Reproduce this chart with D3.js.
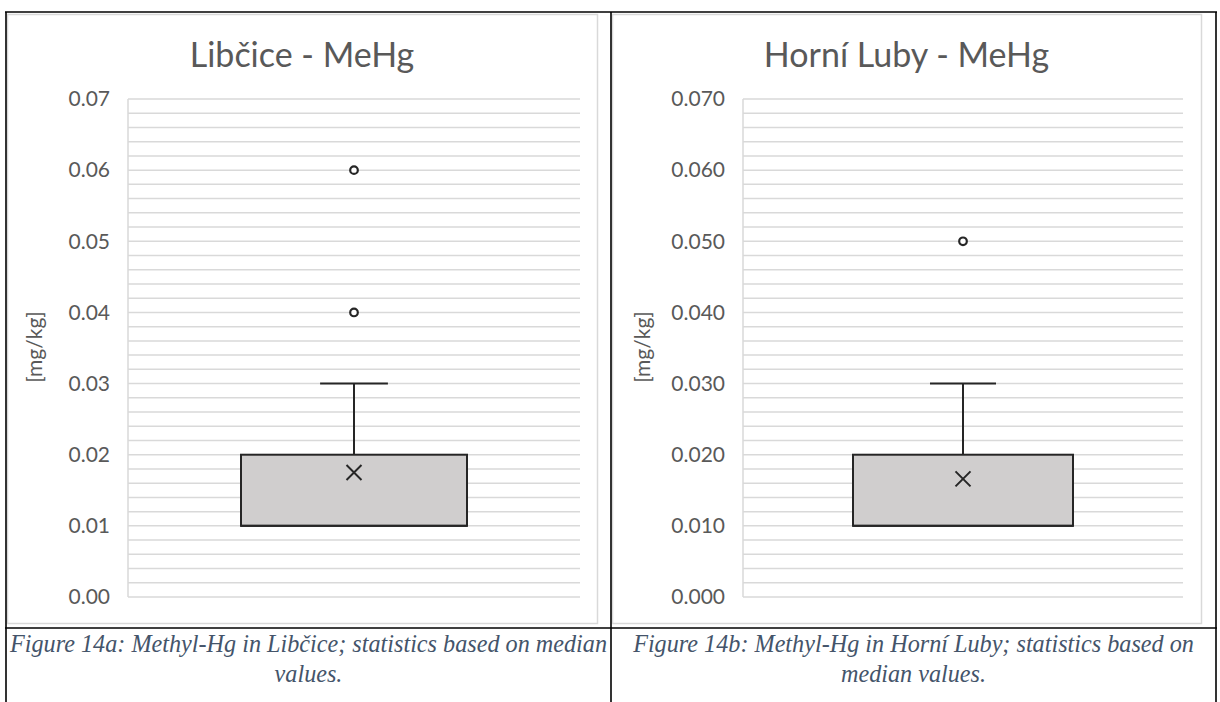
<!DOCTYPE html>
<html><head><meta charset="utf-8">
<script src="https://cdn.jsdelivr.net/npm/d3@7"></script>
<style>body{margin:0;background:#fff} svg{display:block}</style>
</head><body>
<svg id="c" width="1220" height="702"></svg>
<script>
// ---- data ----
const titles = ["Libčice - MeHg", "Horní Luby - MeHg"];
const captions = [
  ["Figure 14a: Methyl-Hg in Libčice; statistics based on median", "values."],
  ["Figure 14b: Methyl-Hg in Horní Luby; statistics based on", "median values."]
];
const yTitle = "[mg/kg]";
const category = ["MeHg"];
const tickValues = [0, 0.01, 0.02, 0.03, 0.04, 0.05, 0.06, 0.07];
const tickFormats = [".2f", ".3f"];
const minorStep = 0.002;
const yMax = 0.07;
const q1 = [0.01, 0.01];
const q3 = [0.02, 0.02];
const median = [0.01, 0.01];
const whiskerLow = [0.01, 0.01];
const whiskerHigh = [0.03, 0.03];
const mean = [0.0175, 0.0166];
const outliers = [[0.04, 0.06], [0.05]];

// ---- layout ----
const layout = [
  {cx0: 7, cx1: 597, pl: 128, pr: 580, yt: 35, cell: [6, 611]},
  {cx0: 612, cx1: 1201, pl: 743, pr: 1183, yt: 643, cell: [611, 1216]}
];
const chartTop = 14, chartBottom = 623, plotTop = 99, plotBottom = 597;
const tableTop = 12, tableMid = 628;
const svg = d3.select("#c");
const sans = "Lato, 'Open Sans', sans-serif";

layout.forEach((L, i) => {
  const g = svg.append("g");
  // chart border
  g.append("rect").attr("x", L.cx0 + 0.5).attr("y", chartTop + 0.5)
    .attr("width", L.cx1 - L.cx0).attr("height", chartBottom - chartTop)
    .attr("fill", "#fff").attr("stroke", "#d9d9d9").attr("stroke-width", 1.5);

  const y = d3.scaleLinear().domain([0, yMax]).range([plotBottom, plotTop]);
  const x = d3.scaleBand().domain(category).range([L.pl, L.pr]).paddingInner(0).paddingOuter(0.5);

  // gridlines (major + minor)
  const grid = d3.range(0, yMax + 1e-9, minorStep);
  g.append("g").selectAll("line").data(grid).join("line")
    .attr("x1", L.pl).attr("x2", L.pr)
    .attr("y1", d => y(d)).attr("y2", d => y(d))
    .attr("stroke", "#d9d9d9").attr("stroke-width", 1.5);
  // vertical axis line
  g.append("line").attr("x1", L.pl).attr("x2", L.pl)
    .attr("y1", y(yMax)).attr("y2", y(0))
    .attr("stroke", "#d9d9d9").attr("stroke-width", 1.5);

  // y axis labels
  const ax = g.append("g").attr("transform", `translate(${L.pl},0)`)
    .call(d3.axisLeft(y).tickValues(tickValues).tickFormat(d3.format(tickFormats[i])).tickSize(0).tickPadding(18));
  ax.select(".domain").remove();
  ax.selectAll("text").attr("font-family", sans).attr("font-size", 21).attr("fill", "#595959");

  // y title
  g.append("text").attr("transform", `translate(${L.yt},${(plotTop + plotBottom) / 2 - 1}) rotate(-90)`)
    .attr("text-anchor", "middle").attr("dy", "0.35em")
    .attr("font-family", sans).attr("font-size", 21).attr("fill", "#595959").text(yTitle);

  // title
  g.append("text").attr("x", (L.cx0 + L.cx1) / 2).attr("y", 67)
    .attr("text-anchor", "middle").attr("font-family", sans).attr("font-size", 34)
    .attr("fill", "#595959").text(titles[i]);

  // box plot
  const c = category[0];
  const bx = x(c), bw = x.bandwidth(), cxm = bx + bw / 2, cap = bw * 0.3;
  const dark = "#262626";
  // whiskers
  g.append("line").attr("x1", cxm).attr("x2", cxm).attr("y1", y(q3[i])).attr("y2", y(whiskerHigh[i]))
    .attr("stroke", dark).attr("stroke-width", 2);
  g.append("line").attr("x1", cxm - cap / 2).attr("x2", cxm + cap / 2).attr("y1", y(whiskerHigh[i])).attr("y2", y(whiskerHigh[i]))
    .attr("stroke", dark).attr("stroke-width", 2);
  g.append("line").attr("x1", cxm).attr("x2", cxm).attr("y1", y(q1[i])).attr("y2", y(whiskerLow[i]))
    .attr("stroke", dark).attr("stroke-width", 2);
  // box
  g.append("rect").attr("x", bx).attr("y", y(q3[i])).attr("width", bw).attr("height", y(q1[i]) - y(q3[i]))
    .attr("fill", "#d0cece").attr("stroke", dark).attr("stroke-width", 2);
  g.append("line").attr("x1", bx).attr("x2", bx + bw).attr("y1", y(median[i])).attr("y2", y(median[i]))
    .attr("stroke", dark).attr("stroke-width", 2);
  // mean marker X
  const my = y(mean[i]), s = 7.5;
  g.append("path").attr("d", `M${cxm - s},${my - s}L${cxm + s},${my + s}M${cxm - s},${my + s}L${cxm + s},${my - s}`)
    .attr("stroke", dark).attr("stroke-width", 2).attr("fill", "none");
  // outliers
  g.append("g").selectAll("circle").data(outliers[i]).join("circle")
    .attr("cx", cxm).attr("cy", d => y(d)).attr("r", 3.8)
    .attr("fill", "#fff").attr("stroke", dark).attr("stroke-width", 2.2);

  // captions
  captions[i].forEach((t, k) => {
    svg.append("text").attr("x", (L.cell[0] + L.cell[1]) / 2).attr("y", 652 + k * 30)
      .attr("text-anchor", "middle").attr("font-family", "'Liberation Serif', 'Times New Roman', serif")
      .attr("font-style", "italic").attr("font-size", 24.2).attr("fill", "#44546a").text(t);
  });
});

// table lines
const tl = svg.append("g").attr("stroke", "#000").attr("stroke-width", 1.6);
tl.append("line").attr("x1", 5).attr("x2", 1217).attr("y1", tableTop).attr("y2", tableTop);
tl.append("line").attr("x1", 5).attr("x2", 1217).attr("y1", tableMid).attr("y2", tableMid);
[6, 611, 1216].forEach(xv => tl.append("line").attr("x1", xv).attr("x2", xv).attr("y1", tableTop).attr("y2", 702));
</script>
</body></html>
